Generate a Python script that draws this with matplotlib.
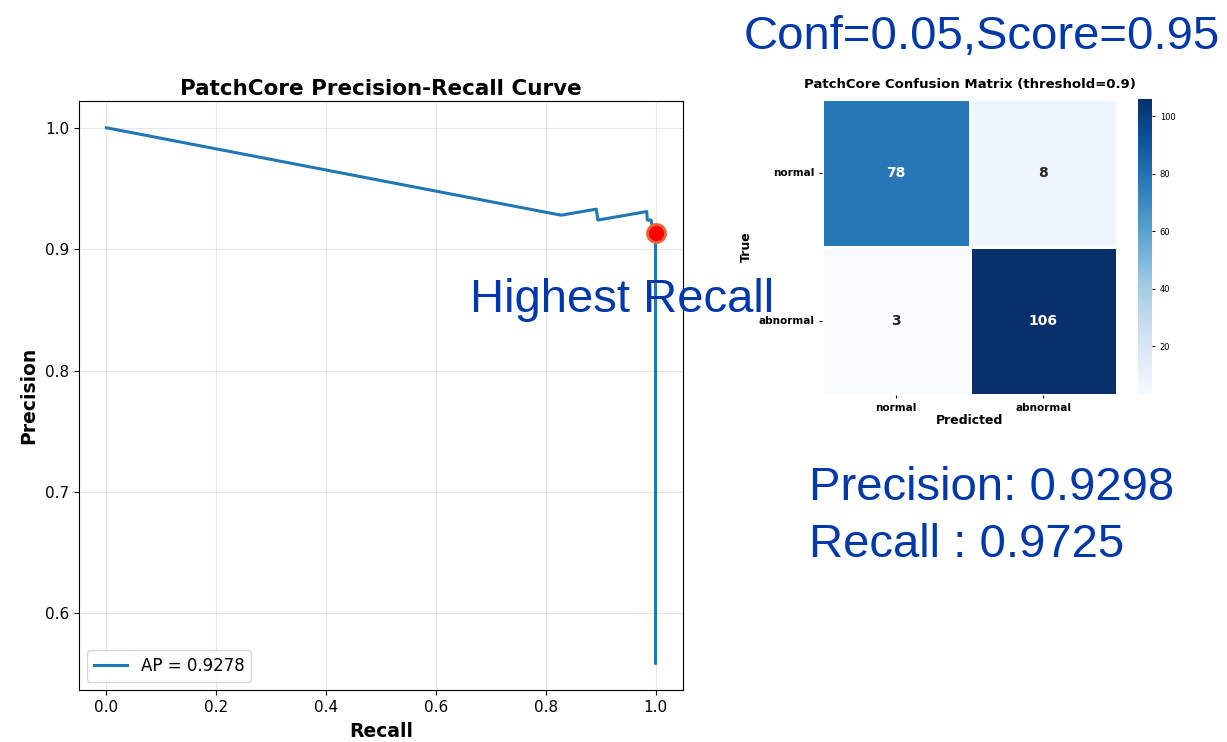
import matplotlib
matplotlib.use("Agg")
import matplotlib.pyplot as plt
import numpy as np
import seaborn as sns

# PR curve vertices
recall = [0.0, 0.828, 0.892, 0.895, 0.984, 0.985, 0.992, 0.993, 1.0, 1.0]
precision = [1.0, 0.928, 0.933, 0.924, 0.931, 0.924, 0.924, 0.921, 0.913, 0.559]
ap = 0.9278
best_recall, best_precision = 1.0, 0.913

# confusion matrix
class_names = ["normal", "abnormal"]
cm = np.array([[78, 8],
               [3, 106]])
threshold = 0.9

overlay_color = "#0038A8"

W, H = 1227, 742


def px_box(x0, y0, x1, y1):
    # pixel box (top-left origin) -> figure fraction rect
    return [x0 / W, 1 - y1 / H, (x1 - x0) / W, (y1 - y0) / H]


def main():
    fig = plt.figure(figsize=(W / 100, H / 100), dpi=100)

    # --- precision-recall curve ---
    ax = fig.add_axes(px_box(79, 101, 683, 690))
    ax.plot(recall, precision, color="#1f77b4", lw=2.2, label=f"AP = {ap:.4f}")
    ax.plot(best_recall, best_precision, "o", color="red", markersize=13,
            markeredgecolor="#e8643c", markeredgewidth=2, zorder=5)
    ax.set_title("PatchCore Precision-Recall Curve", fontsize=15.5, fontweight="bold", pad=4)
    ax.set_xlabel("Recall", fontsize=13.5, fontweight="bold", labelpad=5)
    ax.set_ylabel("Precision", fontsize=13.5, fontweight="bold", labelpad=5)
    ax.set_xticks([0.0, 0.2, 0.4, 0.6, 0.8, 1.0])
    ax.set_yticks([0.6, 0.7, 0.8, 0.9, 1.0])
    ax.tick_params(labelsize=11, length=3.5)
    ax.grid(True, alpha=0.3)
    ax.legend(loc="lower left", fontsize=12)

    # --- confusion matrix ---
    hax = fig.add_axes(px_box(822, 99, 1117, 395))
    cax = fig.add_axes(px_box(1138, 99, 1152, 395))
    sns.heatmap(cm, annot=True, fmt="d", cmap="Blues", ax=hax, cbar_ax=cax,
                xticklabels=class_names, yticklabels=class_names,
                linewidths=1, linecolor="white",
                annot_kws={"fontsize": 10, "fontweight": "bold"})
    hax.set_title(f"PatchCore Confusion Matrix (threshold={threshold})",
                  fontsize=9.5, fontweight="bold", pad=8)
    hax.set_xlabel("Predicted", fontsize=9, fontweight="bold", labelpad=1)
    hax.set_ylabel("True", fontsize=9, fontweight="bold")
    hax.tick_params(labelsize=7.5, length=2)
    for lab in hax.get_xticklabels() + hax.get_yticklabels():
        lab.set_fontweight("bold")
    plt.setp(hax.get_yticklabels(), rotation=0)
    cax.tick_params(labelsize=6, length=2)

    # --- slide annotations ---
    txt = dict(color=overlay_color, fontsize=34, family="Liberation Sans", va="baseline")
    fig.text(744 / W, 1 - 49 / H, "Conf=0.05,Score=0.95", **txt)
    fig.text(470 / W, 1 - 312 / H, "Highest Recall", **txt)
    fig.text(809 / W, 1 - 500 / H, "Precision: 0.9298", **txt)
    fig.text(809 / W, 1 - 557 / H, "Recall : 0.9725", **txt)

    fig.savefig("out.png", dpi=100)


if __name__ == "__main__":
    main()
